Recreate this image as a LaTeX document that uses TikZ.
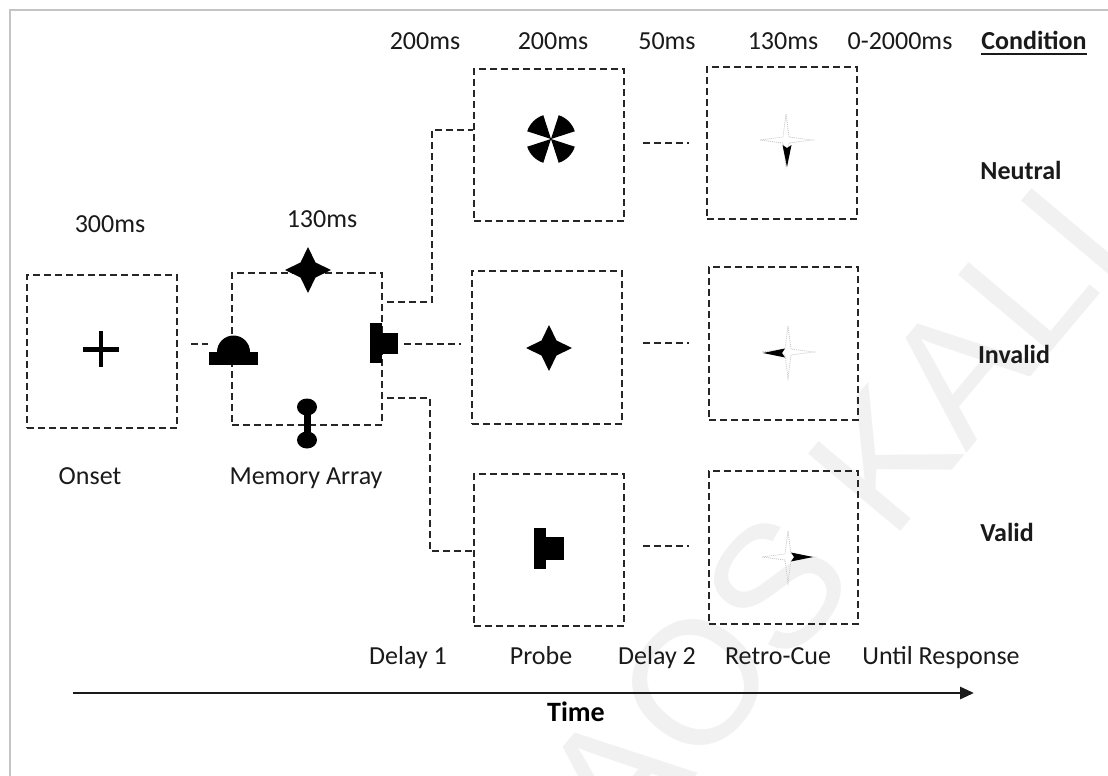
\documentclass[tikz,border=0pt]{standalone}
\usepackage{fontspec}
\setmainfont{Carlito}
\newfontfamily\wmfont{Liberation Sans}
\usetikzlibrary{arrows.meta,calc}
\definecolor{ink}{HTML}{1A1A1A}
\definecolor{dashc}{HTML}{262626}
\definecolor{framegray}{HTML}{C4C4C4}
\definecolor{wm}{HTML}{F1F1F1}
\definecolor{faint}{HTML}{C8C8C8}
\begin{document}
\begin{tikzpicture}[x=1pt,y=-1pt,
  stimbox/.style={draw=dashc, line width=2.1pt, dash pattern=on 7pt off 4pt,
    minimum width=150pt, minimum height=152pt, inner sep=0pt},
  conn/.style={draw=dashc, line width=2.1pt, dash pattern=on 7pt off 4pt},
  lbl/.style={font=\fontsize{26}{30}\selectfont, text=ink, inner sep=0pt, anchor=base},
  blbl/.style={font=\fontsize{26}{30}\selectfont\bfseries, text=ink, inner sep=0pt, anchor=base},
  timearrow/.style={draw=ink, line width=2.8pt, -{Triangle[length=14pt,width=12pt]}},
  fourstar/.pic={\fill[black] (0,-23) -- (7.5,-7.5) -- (23,0) -- (7.5,7.5) -- (0,23) -- (-7.5,7.5) -- (-23,0) -- (-7.5,-7.5) -- cycle;},
  faintstar/.pic={\draw[faint, line width=0.8pt, dash pattern=on 1pt off 1pt]
     (0,-26) -- (3,-3) -- (26,0) -- (3,3) -- (0,26) -- (-3,3) -- (-26,0) -- (-3,-3) -- cycle;},
  pinwheel/.pic={\foreach \a in {45,135,225,315}{\fill[black] (0,0) -- (\a-27:25) arc[start angle=\a-27, end angle=\a+27, radius=25] -- cycle;}},
  dart/.pic={\fill[black] (0,-4.5) -- (22,0) -- (0,4.5) -- (3,0) -- cycle;}
]
\useasboundingbox (0,0) rectangle (1108,776);
\fill[white] (0,0) rectangle (1108,776);

% watermark
\node[font=\wmfont\fontsize{175}{175}\selectfont, text=wm, rotate=50, inner sep=0pt] (wmark) at (849,500) {AOS KALL};

% frame
\draw[framegray, line width=2pt] (10,776) -- (10,10) -- (1108,10);

% boxes
\node[stimbox, minimum height=153pt] (onset) at (102,351.5) {};
\node[stimbox] (ma) at (307,349) {};
\node[stimbox] (pn) at (549,145) {};
\node[stimbox, minimum height=153pt] (pi) at (547,347.5) {};
\node[stimbox] (pv) at (549,550) {};
\node[stimbox] (rn) at (782,143) {};
\node[stimbox, minimum width=149pt, minimum height=153pt] (ri) at (783.5,343.5) {};
\node[stimbox, minimum width=149pt, minimum height=153pt] (rv) at (783.5,547.5) {};

% connectors
\draw[conn] ($(onset.east)+(13,-7.5)$) -- ($(ma.west)+(-23,-5)$);
\coordinate (k1) at (432,130);
\draw[conn] ($(ma.north east)+(4,30)$) -| (k1) -- (k1 -| pn.west);
\draw[conn] ($(ma.east)+(21,-5)$) -- ($(pi.west)+(-10,-3.5)$);
\coordinate (k3) at (430,551);
\draw[conn] ($(ma.south east)+(4,-28)$) -| (k3) -- (k3 -| pv.west);
\draw[conn] ($(pn.east)+(18,-2)$) -- ($(rn.west)+(-17,0)$);
\draw[conn] ($(pi.east)+(20,-4.5)$) -- ($(ri.west)+(-19,-0.5)$);
\draw[conn] ($(pv.east)+(18,-4)$) -- ($(rv.west)+(-19,-1.5)$);

% onset cross
\fill[black] (83,347) rectangle (119,351.5);
\fill[black] (98.8,331) rectangle (103.2,367);

% memory array items
\pic at (308,270) {fourstar};
\fill[black] (209,365) rectangle (258,352);
\fill[black] (217,352) arc[start angle=180, end angle=360, radius=16.5];
\fill[black] (370,323) rectangle (382,363);
\fill[black] (382,333) rectangle (398,354);
\fill[black] (307,407) ellipse [x radius=10, y radius=8.5];
\fill[black] (307,440) ellipse [x radius=10, y radius=8.5];
\fill[black] (303.5,407) rectangle (310.5,440);

% probes
\pic at (551,139) {pinwheel};
\pic at (549,348) {fourstar};
\fill[black] (534,528) rectangle (546,569);
\fill[black] (546,537) rectangle (564,560);

% retro-cues
\pic at (786,140) {faintstar};
\pic[rotate=-90] at (787,145) {dart};
\pic at (788,352) {faintstar};
\pic[rotate=180] at (785,353) {dart};
\pic at (788,557) {faintstar};
\pic at (791,557) {dart};

% top timings
\node[lbl] (t1) at (425,49) {200ms};
\node[lbl] (t2) at (553,49) {200ms};
\node[lbl] (t3) at (667,49) {50ms};
\node[lbl] (t4) at (783,49) {130ms};
\node[lbl] (t5) at (900,49) {0-2000ms};
\node[blbl] (cond) at (1034,49) {Condition};
\draw[ink, line width=1.6pt] ($(cond.base west)+(0,5)$) -- ($(cond.base east)+(0,5)$);

\node[lbl] (t0a) at (110,232) {300ms};
\node[lbl] (t0b) at (322,227) {130ms};
\node[lbl] (lonset) at (90,484) {Onset};
\node[lbl] (lma) at (306,484) {Memory Array};

\node[blbl] (cn) at (1021,179) {Neutral};
\node[blbl] (ci) at (1014,363) {Invalid};
\node[blbl] (cv) at (1007,541) {Valid};

\node[lbl] (ld1) at (408,664) {Delay 1};
\node[lbl] (lpr) at (541,664) {Probe};
\node[lbl] (ld2) at (657,664) {Delay 2};
\node[lbl] (lrc) at (778,664) {Retro-Cue};
\node[lbl] (lur) at (941,664) {Until Response};

% time axis
\coordinate (ta) at (73,693);
\coordinate (tb) at (974,693);
\draw[timearrow] (ta) -- (tb);
\node[font=\fontsize{28}{32}\selectfont\bfseries, text=black, inner sep=0pt, anchor=base] (ltime) at (576,721) {Time};
\end{tikzpicture}
\end{document}
